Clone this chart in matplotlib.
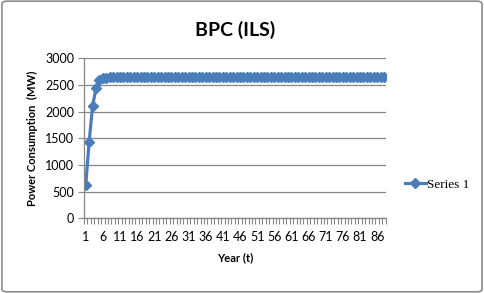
import matplotlib
matplotlib.use("Agg")
import matplotlib.pyplot as plt
from matplotlib.patches import FancyBboxPatch
import numpy as np

years = list(range(1, 89))
power = [
    624, 1436, 2111, 2437, 2593, 2630, 2640, 2643, 2645, 2645,
    2645, 2645, 2645, 2645, 2645, 2645, 2645, 2645, 2645, 2645,
    2645, 2645, 2645, 2645, 2645, 2645, 2645, 2645, 2645, 2645,
    2645, 2645, 2645, 2645, 2645, 2645, 2645, 2645, 2645, 2645,
    2645, 2645, 2645, 2645, 2645, 2645, 2645, 2645, 2645, 2645,
    2645, 2645, 2645, 2645, 2645, 2645, 2645, 2645, 2645, 2645,
    2645, 2645, 2645, 2645, 2645, 2645, 2645, 2645, 2645, 2645,
    2645, 2645, 2645, 2645, 2645, 2645, 2645, 2645, 2645, 2645,
    2645, 2645, 2645, 2645, 2645, 2645, 2645, 2645,
]
y_ticks = [0, 500, 1000, 1500, 2000, 2500, 3000]
x_labels = years[::5]

plt.rcParams["font.family"] = ["Lato", "DejaVu Sans"]
BLUE = "#4A7EBB"
GRID = "#868686"

fig = plt.figure(figsize=(4.84, 2.93), dpi=100)
frame = FancyBboxPatch((0.004, 0.004), 0.992, 0.992, boxstyle="round,pad=0,rounding_size=0.01",
                       transform=fig.transFigure, facecolor="none", edgecolor="#8c8c8c",
                       linewidth=1.2, zorder=10)
fig.patches.append(frame)

ax = fig.add_axes([0.1736, 0.255, 0.6234, 0.546])
ax.plot(years, power, color=BLUE, linewidth=2.3, marker="D", markersize=5, label="Series 1")

ax.set_xlim(0.5, len(years) + 0.5)
ax.set_ylim(0, 3000)
ax.set_yticks(y_ticks)
ax.set_xticks(x_labels)
ax.set_xticklabels([str(v) for v in x_labels])
ax.set_xticks(np.arange(0.5, len(years) + 1, 1), minor=True)
ax.tick_params(axis="x", which="major", length=0, pad=9, labelsize=9)
ax.tick_params(axis="x", which="minor", length=4, color=GRID, width=0.8)
ax.tick_params(axis="y", length=4, color=GRID, width=0.8, labelsize=9, pad=3)
ax.yaxis.grid(True, color=GRID, linewidth=0.9)
ax.set_axisbelow(True)
for s in ["top", "right"]:
    ax.spines[s].set_visible(False)
for s in ["left", "bottom"]:
    ax.spines[s].set_color(GRID)
    ax.spines[s].set_linewidth(0.9)

ax.set_title("BPC (ILS)", fontsize=14, fontweight="bold", pad=16)
ax.set_xlabel("Year (t)", fontsize=8, fontweight="bold", labelpad=7)
ax.set_ylabel("Power Consumption  (MW)", fontsize=8, fontweight="bold", labelpad=5)

ax.legend(loc="center left", bbox_to_anchor=(1.045, 0.21), frameon=False,
          prop={"family": "Liberation Serif", "size": 9.5}, handlelength=1.6,
          handletextpad=0.1, borderaxespad=0)

fig.savefig("out.png", dpi=100)
